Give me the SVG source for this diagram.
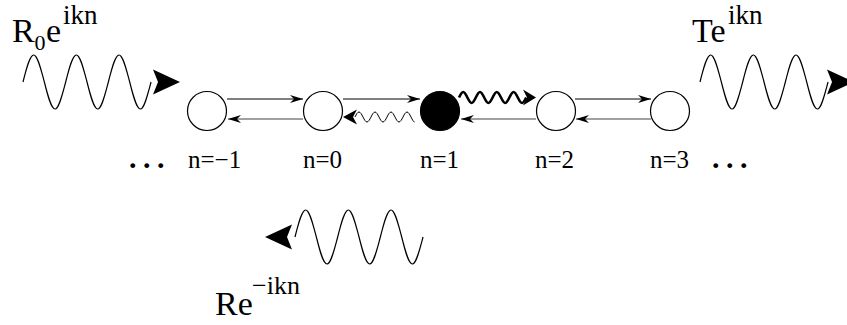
<svg xmlns="http://www.w3.org/2000/svg" xmlns:xlink="http://www.w3.org/1999/xlink" width="847" height="325" viewBox="0 0 847 325">
  <style>
    .site { fill: #fff; stroke: #000; stroke-width: 1.2; }
    .site.hot { fill: #000; }
    .lbl { font-family: "Liberation Serif", "Times New Roman", serif; font-size: 25px; fill: #000; }
    .amp { font-family: "Liberation Serif", "Times New Roman", serif; fill: #000; }
    .dots { font-family: "Liberation Serif", "Times New Roman", serif; font-size: 30px; font-weight: bold; letter-spacing: 6.5px; fill: #000; }
    .fwd { fill: none; stroke: #000; stroke-width: 1; }
    .back { fill: none; stroke: #808080; stroke-width: 1.6; }
    .wave { fill: none; stroke: #000; stroke-width: 1.2; }
    .wiggle { fill: none; stroke: #000; stroke-width: 1; }
    .wiggle.bold { stroke-width: 2.6; }
    .head { fill: #000; stroke: none; }
  </style>
  <defs>
    <marker id="tip" markerUnits="userSpaceOnUse" markerWidth="16" markerHeight="10" viewBox="-14 -5 16 10" refX="0" refY="0" orient="auto">
      <path d="M0,0 L-13,-4 L-9,0 L-13,4 Z" fill="#000"/>
    </marker>
    <!-- three periods of a sine wave, period 42.7, amplitude 27 -->
    <path id="bigwave" class="wave" d="M0,0
      c 3.57,-14.18 6.82,-27 10.67,-27 c 3.85,0 7.1,13.82 10.67,27 c 3.57,14.18 6.82,27 10.67,27 c 3.85,0 7.1,-13.82 10.67,-27
      c 3.57,-14.18 6.82,-27 10.67,-27 c 3.85,0 7.1,13.82 10.67,27 c 3.57,14.18 6.82,27 10.67,27 c 3.85,0 7.1,-13.82 10.67,-27
      c 3.57,-14.18 6.82,-27 10.67,-27 c 3.85,0 7.1,13.82 10.67,27 c 3.57,14.18 6.82,27 10.67,27 c 3.85,0 7.1,-13.82 10.67,-27"/>
    <path id="bighead" class="head" d="M0,0 L-27,-12.5 L-22,0 L-27,12.5 Z"/>
  </defs>

  <!-- incoming wave R0 e^{ikn} -->
  <g id="incident">
    <use xlink:href="#bigwave" href="#bigwave" x="23" y="82"/>
    <use xlink:href="#bighead" href="#bighead" x="180" y="82"/>
    <text class="amp" font-size="34" x="12" y="42">R</text>
    <text class="amp" font-size="22" x="34.5" y="50">0</text>
    <text class="amp" font-size="34" x="46" y="42">e</text>
    <text class="amp" font-size="27" x="63" y="24">ikn</text>
  </g>

  <!-- transmitted wave T e^{ikn} -->
  <g id="transmitted">
    <use xlink:href="#bigwave" href="#bigwave" x="700" y="82"/>
    <use xlink:href="#bighead" href="#bighead" x="854" y="82"/>
    <text class="amp" font-size="34" x="692" y="42">Te</text>
    <text class="amp" font-size="27" x="728" y="24">ikn</text>
  </g>

  <!-- reflected wave R e^{-ikn} -->
  <g id="reflected">
    <use xlink:href="#bigwave" href="#bigwave" x="295" y="237"/>
    <use xlink:href="#bighead" href="#bighead" transform="translate(265,237) rotate(180)"/>
    <text class="amp" font-size="34" x="215" y="315">Re</text>
    <text class="amp" font-size="26" x="252" y="294">−ikn</text>
  </g>

  <!-- hopping arrows between neighbouring sites -->
  <g id="connectors">
    <line class="fwd" x1="227" y1="99" x2="303" y2="99" marker-end="url(#tip)"/>
    <line class="back" x1="303" y1="119" x2="228" y2="119" marker-end="url(#tip)"/>
    <line class="fwd" x1="343" y1="99" x2="420" y2="99" marker-end="url(#tip)"/>
    <line class="back" x1="536" y1="119" x2="461" y2="119" marker-end="url(#tip)"/>
    <line class="fwd" x1="575" y1="99" x2="651" y2="99" marker-end="url(#tip)"/>
    <line class="back" x1="651" y1="119" x2="576" y2="119" marker-end="url(#tip)"/>

    <!-- thin wavy emission towards n=0 -->
    <path class="wiggle" d="M355,117
      c 1.34,-2.63 2.56,-5 4,-5 c 1.44,0 2.66,2.37 4,5 c 1.34,2.63 2.56,5 4,5 c 1.44,0 2.66,-2.37 4,-5
      c 1.34,-2.63 2.56,-5 4,-5 c 1.44,0 2.66,2.37 4,5 c 1.34,2.63 2.56,5 4,5 c 1.44,0 2.66,-2.37 4,-5
      c 1.34,-2.63 2.56,-5 4,-5 c 1.44,0 2.66,2.37 4,5 c 1.34,2.63 2.56,5 4,5 c 1.44,0 2.66,-2.37 4,-5
      c 1.34,-2.63 2.56,-5 4,-5 c 1.44,0 2.66,2.37 4,5 c 1.34,2.63 2.56,5 3.5,5"/>
    <path class="head" d="M343,117 L357,109.5 L353,117 L357,124.5 Z"/>

    <!-- bold wavy emission towards n=2 -->
    <path class="wiggle bold" d="M459,97.5
      c 1.4,-2.89 2.69,-5.5 4.2,-5.5 c 1.51,0 2.8,2.61 4.2,5.5 c 1.4,2.89 2.69,5.5 4.2,5.5 c 1.51,0 2.8,-2.61 4.2,-5.5
      c 1.4,-2.89 2.69,-5.5 4.2,-5.5 c 1.51,0 2.8,2.61 4.2,5.5 c 1.4,2.89 2.69,5.5 4.2,5.5 c 1.51,0 2.8,-2.61 4.2,-5.5
      c 1.4,-2.89 2.69,-5.5 4.2,-5.5 c 1.51,0 2.8,2.61 4.2,5.5 c 1.4,2.89 2.69,5.5 4.2,5.5 c 1.51,0 2.8,-2.61 4.2,-5.5
      c 1.4,-2.89 2.69,-5.5 4.2,-5.5 c 1.51,0 2.8,2.61 4.2,5.5 c 1.4,2.89 2.69,5.5 4.2,5.5 c 1.51,0 2.8,-2.61 4.2,-5.5"/>
    <path class="head" d="M536,97.5 L523,89.5 L527,97.5 L523,105.5 Z"/>
  </g>

  <!-- lattice sites -->
  <g id="site-m1">
    <circle class="site" cx="207" cy="111" r="19.5"/>
    <text class="lbl" x="188" y="168">n=−1</text>
  </g>
  <g id="site-0">
    <circle class="site" cx="323" cy="111" r="19.5"/>
    <text class="lbl" x="303" y="168">n=0</text>
  </g>
  <g id="site-1">
    <circle class="site hot" cx="440" cy="111" r="19.5"/>
    <text class="lbl" x="420" y="168">n=1</text>
  </g>
  <g id="site-2">
    <circle class="site" cx="556" cy="111" r="19.5"/>
    <text class="lbl" x="535" y="168">n=2</text>
  </g>
  <g id="site-3">
    <circle class="site" cx="670" cy="111" r="19.5"/>
    <text class="lbl" x="650" y="168">n=3</text>
  </g>

  <!-- chain continues on both sides -->
  <text class="dots" x="129" y="168">...</text>
  <text class="dots" x="712" y="168">...</text>
</svg>
